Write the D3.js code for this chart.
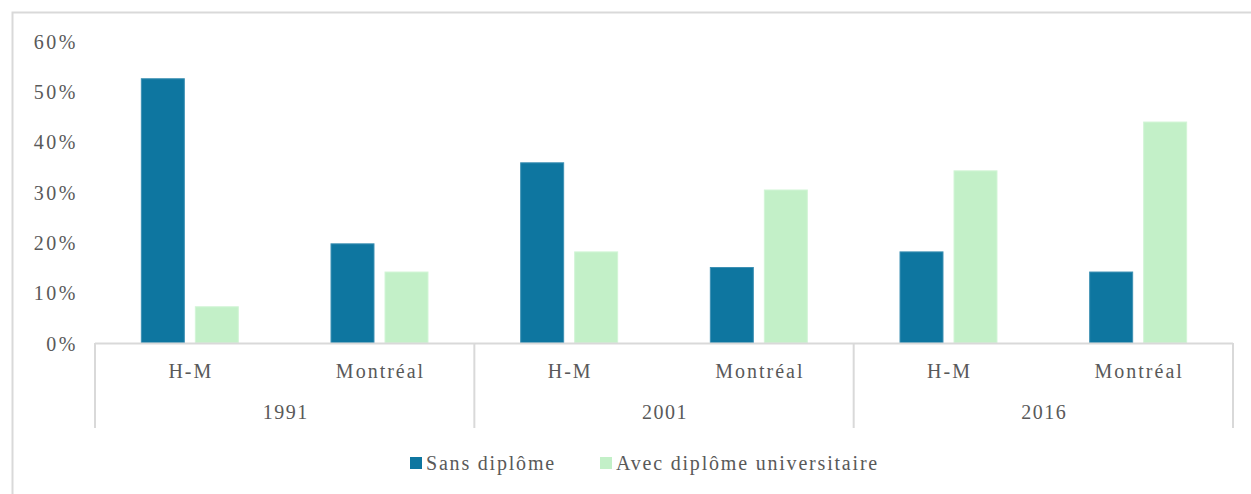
<!DOCTYPE html>
<html><head><meta charset="utf-8">
<script src="https://cdn.jsdelivr.net/npm/d3@7"></script>
<style>
body{margin:0;background:#fff;}
svg text{font-family:"Liberation Serif","Times New Roman","DejaVu Serif",serif !important;fill:#595959;}
</style></head>
<body><svg id="c" width="1251" height="494"></svg>
<script>
const years = ["1991","2001","2016"];
const places = ["H-M","Montréal"];
const seriesNames = ["Sans diplôme","Avec diplôme universitaire"];
const sansDiplome = [52.5, 19.7, 35.8, 15.0, 18.1, 14.1];
const avecDiplome = [7.2, 14.1, 18.1, 30.4, 34.2, 43.9];
const yTicks = [0,10,20,30,40,50,60];
const colors = ["#0E76A0","#C3F0C8"];

const FONT = '"Liberation Serif","Times New Roman","DejaVu Serif",serif';
const svg = d3.select("#c");
const plotLeft = 95, plotRight = 1233, plotTop = 41, plotBottom = 343;

// frame
svg.append("path").attr("d","M12.5,494 V12.5 H1251").attr("fill","none").attr("stroke","#d9d9d9").attr("stroke-width",2);

const keys = [];
years.forEach(yr=>places.forEach(p=>keys.push(yr+"|"+p)));
const x0 = d3.scaleBand().domain(keys).range([plotLeft,plotRight]).paddingInner(0).paddingOuter(0);
const x1 = d3.scaleBand().domain(seriesNames).range([0,x0.bandwidth()]).paddingInner(0.204).paddingOuter(0.858);
const y = d3.scaleLinear().domain([0,60]).range([plotBottom,plotTop]);

// y axis labels
const yAxis = d3.axisLeft(y).tickValues(yTicks).tickFormat(d=>d+"%").tickSize(0).tickPadding(0);
const ga = svg.append("g").attr("transform","translate(78,0)").call(yAxis);
ga.attr("font-family", FONT);
ga.select(".domain").remove();
ga.selectAll("text").attr("font-family",FONT).style("font-size","20px").attr("fill","#595959").attr("letter-spacing","2.5px").attr("dy","0.35em");

// bars
const data = keys.map((k,i)=>({k, vals:[sansDiplome[i], avecDiplome[i]]}));
const g = svg.append("g");
data.forEach(d=>{
  d.vals.forEach((v,j)=>{
    g.append("rect")
      .attr("x", x0(d.k)+x1(seriesNames[j]))
      .attr("width", x1.bandwidth())
      .attr("y", y(v))
      .attr("height", y(0)-y(v))
      .attr("fill", colors[j])
      .attr("stroke", j===0 ? "#3d90b3" : "#d2f5d6").attr("stroke-width",1);
  });
});

// category axis
const axisColor = "#d9d9d9";
svg.append("line").attr("x1",plotLeft).attr("x2",plotRight).attr("y1",plotBottom+0.5).attr("y2",plotBottom+0.5).attr("stroke",axisColor).attr("stroke-width",2);
const yearScale = d3.scaleBand().domain(years).range([plotLeft,plotRight]);
years.concat(["end"]).forEach((yr,i)=>{
  const xx = i<years.length ? yearScale(yr) : plotRight;
  svg.append("line").attr("x1",xx).attr("x2",xx).attr("y1",plotBottom).attr("y2",428).attr("stroke",axisColor).attr("stroke-width",2);
});
keys.forEach(k=>{
  svg.append("text").attr("x",x0(k)+x0.bandwidth()/2+1).attr("y",371).attr("dy","0.35em").attr("font-family",FONT)
    .attr("text-anchor","middle").style("font-size","20px").attr("letter-spacing","2px").text(k.split("|")[1]);
});
years.forEach(yr=>{
  svg.append("text").attr("x",yearScale(yr)+yearScale.bandwidth()/2+1).attr("y",412).attr("dy","0.35em").attr("font-family",FONT)
    .attr("text-anchor","middle").style("font-size","20px").attr("letter-spacing","1.5px").text(yr);
});

// legend
const legX = [410, 600];
seriesNames.forEach((s,i)=>{
  svg.append("rect").attr("x",legX[i]).attr("y",457).attr("width",12).attr("height",12).attr("fill",colors[i]);
  svg.append("text").attr("x",legX[i]+16).attr("y",463).attr("dy","0.35em").attr("font-family",FONT).style("font-size","20px").attr("letter-spacing","1.8px").text(s);
});
</script></body></html>
